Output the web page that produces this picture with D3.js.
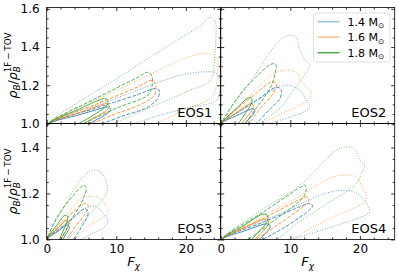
<!DOCTYPE html>
<html>
<head>
<meta charset="utf-8">
<script src="https://cdn.jsdelivr.net/npm/d3@7"></script>
<style>
  html, body { margin: 0; padding: 0; background: #fff; }
  svg { display: block; }
  text { font-family: "DejaVu Sans", sans-serif; }
</style>
</head>
<body>
<svg id="chart" width="399" height="276"></svg>
<script>
// ---------------- data ----------------
const masses = ["1.4", "1.6", "1.8"];
const massColors = ["#1f77b4", "#ff7f0e", "#2ca02c"];
const levels = ["dotted", "dashed", "solid"];
const xTicks = [0, 10, 20];
const yTicksTop = [1.0, 1.2, 1.4, 1.6];
const yTicksBottom = [1.0, 1.2, 1.4];
const eosNames = ["EOS1", "EOS2", "EOS3", "EOS4"];

// contour outlines [F_chi, rho_B / rho_B^{1F-TOV}], per mass and level
const EOS1 = [
  {m: "1.4", ls: "dotted", pts: [[0.1,0.99],[0.5,1.008],[10,1.132],[16,1.215],[19.5,1.255],[22.5,1.27],[24.3,1.265],[24.9,1.23],[24.8,1.16],[24.4,1.12],[20,1.08],[16,1.04],[12.5,1.0],[8,0.97],[1,0.975]]},
  {m: "1.4", ls: "dashed", pts: [[0.2,0.99],[0.7,1.007],[7,1.08],[13,1.15],[15.6,1.182],[16.2,1.17],[15.9,1.13],[14.5,1.085],[11,1.04],[8,1.0],[5,0.97],[1,0.975]]},
  {m: "1.4", ls: "solid",  pts: [[0.2,0.99],[0.7,1.006],[4.6,1.045],[8.1,1.082],[8.8,1.087],[9.2,1.073],[8.8,1.055],[7.7,1.03],[6.0,1.0],[4,0.975],[1,0.975]]},
  {m: "1.6", ls: "dotted", pts: [[0.1,0.99],[0.5,1.01],[10,1.173],[17,1.295],[20.5,1.35],[23.3,1.366],[24.4,1.34],[24.5,1.25],[24.2,1.17],[23.5,1.13],[20,1.075],[17.5,1.03],[15.5,1.0],[10,0.96],[1,0.975]]},
  {m: "1.6", ls: "dashed", pts: [[0.2,0.99],[0.6,1.008],[7,1.1],[13,1.19],[15.0,1.225],[15.6,1.21],[15.5,1.15],[13.5,1.1],[9.5,1.045],[6.5,1.0],[4,0.97],[1,0.975]]},
  {m: "1.6", ls: "solid",  pts: [[0.2,0.99],[0.6,1.008],[4.5,1.055],[7.9,1.098],[8.6,1.105],[9.0,1.09],[8.7,1.07],[7.3,1.04],[5.3,1.0],[3.5,0.975],[1,0.975]]},
  {m: "1.8", ls: "dotted", pts: [[0.1,0.99],[0.5,1.012],[10,1.234],[18,1.42],[22,1.51],[23.5,1.555],[24.2,1.535],[24.3,1.44],[24.1,1.33],[23.6,1.23],[20,1.165],[14,1.07],[9.5,1.0],[6,0.96],[1,0.975]]},
  {m: "1.8", ls: "dashed", pts: [[0.2,0.99],[0.6,1.01],[7,1.13],[13,1.24],[14.5,1.268],[15.1,1.25],[15.1,1.19],[14.6,1.15],[10,1.08],[5.2,1.0],[3,0.97],[1,0.975]]},
  {m: "1.8", ls: "solid",  pts: [[0.2,0.99],[0.6,1.01],[4.3,1.07],[7.5,1.122],[8.3,1.131],[8.8,1.12],[8.6,1.095],[7.2,1.055],[4.6,1.0],[3,0.975],[1,0.975]]}
];
const EOS2 = [
  {m: "1.4", ls: "dotted", pts: [[0.05,0.99],[0.3,1.007],[4,1.09],[8.3,1.19],[9.9,1.2],[11.5,1.17],[12.3,1.12],[12.8,1.095],[12.4,1.07],[10.1,1.035],[6.8,1.0],[3.5,0.97],[0.5,0.975]]},
  {m: "1.4", ls: "dashed", pts: [[0.05,0.99],[0.3,1.008],[2.5,1.06],[5.5,1.13],[8.0,1.19],[8.7,1.175],[8.5,1.13],[7.8,1.1],[6.8,1.065],[5.0,1.0],[3,0.97],[0.5,0.975]]},
  {m: "1.4", ls: "solid",  pts: [[0.05,0.99],[0.3,1.006],[2.2,1.04],[4.1,1.072],[4.6,1.078],[4.9,1.065],[4.6,1.045],[4.1,1.025],[3.5,1.0],[2.5,0.975],[0.5,0.975]]},
  {m: "1.6", ls: "dotted", pts: [[0.05,0.99],[0.3,1.01],[3.5,1.12],[7.2,1.25],[9.4,1.28],[11.0,1.262],[11.8,1.21],[13.0,1.16],[12.6,1.125],[10.5,1.08],[8.7,1.05],[5.8,1.0],[3,0.965],[0.5,0.975]]},
  {m: "1.6", ls: "dashed", pts: [[0.05,0.99],[0.3,1.01],[2.5,1.08],[5,1.155],[7.3,1.217],[8.0,1.21],[7.7,1.17],[7.0,1.13],[5.8,1.085],[4.0,1.0],[2.5,0.97],[0.5,0.975]]},
  {m: "1.6", ls: "solid",  pts: [[0.05,0.99],[0.3,1.008],[2,1.05],[3.9,1.098],[4.4,1.104],[4.7,1.09],[4.4,1.065],[3.8,1.035],[3.0,1.0],[2,0.975],[0.5,0.975]]},
  {m: "1.8", ls: "dotted", pts: [[0.05,0.99],[0.3,1.015],[4.4,1.227],[8.5,1.435],[9.9,1.462],[10.9,1.45],[11.3,1.39],[12.2,1.33],[12.8,1.31],[12.4,1.275],[11.8,1.24],[10.2,1.16],[8.7,1.087],[5.4,1.0],[3,0.96],[0.5,0.975]]},
  {m: "1.8", ls: "dashed", pts: [[0.05,0.99],[0.3,1.015],[2.5,1.139],[5,1.24],[7.2,1.31],[7.9,1.31],[7.8,1.26],[7.3,1.2],[6.3,1.14],[4.9,1.07],[3.4,1.0],[2,0.97],[0.5,0.975]]},
  {m: "1.8", ls: "solid",  pts: [[0.05,0.99],[0.3,1.01],[2,1.07],[3.8,1.13],[4.3,1.137],[4.5,1.12],[4.2,1.09],[3.5,1.05],[2.5,1.0],[1.5,0.975],[0.5,0.975]]}
];
const EOS3 = [
  {m: "1.4", ls: "dotted", pts: [[0.05,0.99],[0.2,1.006],[3,1.072],[5.8,1.14],[7.1,1.143],[8.2,1.11],[8.8,1.083],[8.3,1.055],[6.6,1.026],[4.9,1.0],[2.5,0.975],[0.4,0.975]]},
  {m: "1.4", ls: "dashed", pts: [[0.05,0.99],[0.2,1.006],[2,1.05],[4,1.1],[5.5,1.134],[5.95,1.12],[5.7,1.09],[5.1,1.06],[4.5,1.03],[3.8,1.0],[2.5,0.975],[0.4,0.975]]},
  {m: "1.4", ls: "solid",  pts: [[0.05,0.99],[0.2,1.006],[1.6,1.035],[2.9,1.062],[3.25,1.055],[3.1,1.04],[2.7,1.02],[2.3,1.0],[1.5,0.98],[0.4,0.98]]},
  {m: "1.6", ls: "dotted", pts: [[0.05,0.99],[0.2,1.01],[2.5,1.09],[4.8,1.175],[6.3,1.187],[7.5,1.183],[8.4,1.15],[8.8,1.12],[8.4,1.103],[7.2,1.08],[5.9,1.055],[3.9,1.0],[2,0.97],[0.4,0.975]]},
  {m: "1.6", ls: "dashed", pts: [[0.05,0.99],[0.2,1.008],[2,1.065],[4,1.125],[5.5,1.157],[5.95,1.148],[5.6,1.115],[5.1,1.095],[4.2,1.06],[2.8,1.0],[1.6,0.975],[0.4,0.975]]},
  {m: "1.6", ls: "solid",  pts: [[0.05,0.99],[0.2,1.008],[1.5,1.045],[2.8,1.082],[3.1,1.078],[3.1,1.06],[2.6,1.03],[2.0,1.0],[1.3,0.98],[0.4,0.98]]},
  {m: "1.8", ls: "dotted", pts: [[0.05,0.99],[0.2,1.015],[2.5,1.142],[5.0,1.265],[6.3,1.297],[7.3,1.3],[8.0,1.283],[8.6,1.245],[8.7,1.215],[8.2,1.18],[6.8,1.13],[5.4,1.082],[3.0,1.0],[1.6,0.965],[0.4,0.975]]},
  {m: "1.8", ls: "dashed", pts: [[0.05,0.99],[0.2,1.012],[1.5,1.098],[3.5,1.18],[5.3,1.235],[5.7,1.225],[5.4,1.19],[5.0,1.16],[3.5,1.084],[2.0,1.0],[1.2,0.97],[0.4,0.975]]},
  {m: "1.8", ls: "solid",  pts: [[0.05,0.99],[0.2,1.01],[1.4,1.06],[2.6,1.105],[3.0,1.1],[2.9,1.075],[2.4,1.04],[1.8,1.0],[1.2,0.98],[0.4,0.98]]}
];
const EOS4 = [
  {m: "1.4", ls: "dotted", pts: [[0.1,0.99],[0.4,1.006],[8,1.105],[15,1.2],[17.6,1.214],[19.1,1.207],[20.5,1.178],[21.0,1.155],[21.4,1.122],[20.7,1.105],[16,1.055],[9.9,1.0],[5,0.97],[0.8,0.975]]},
  {m: "1.4", ls: "dashed", pts: [[0.1,0.99],[0.4,1.006],[6,1.074],[12.3,1.153],[12.9,1.157],[13.2,1.145],[12.8,1.13],[12.0,1.11],[9,1.05],[6.0,1.0],[3.5,0.97],[0.8,0.975]]},
  {m: "1.4", ls: "solid",  pts: [[0.1,0.99],[0.4,1.005],[3.2,1.035],[6.5,1.068],[6.95,1.066],[7.1,1.053],[6.7,1.035],[6.1,1.017],[5.5,1.0],[3.6,0.975],[0.8,0.975]]},
  {m: "1.6", ls: "dotted", pts: [[0.1,0.99],[0.4,1.008],[5,1.085],[10,1.165],[16,1.27],[18.1,1.28],[19.4,1.272],[20.4,1.225],[20.9,1.193],[20.7,1.163],[17,1.11],[13,1.05],[10,1.0],[5,0.96],[0.8,0.975]]},
  {m: "1.6", ls: "dashed", pts: [[0.1,0.99],[0.4,1.008],[6,1.09],[11.8,1.18],[12.4,1.185],[12.7,1.172],[12.3,1.155],[11.5,1.135],[8.5,1.07],[5.0,1.0],[3,0.97],[0.8,0.975]]},
  {m: "1.6", ls: "solid",  pts: [[0.1,0.99],[0.4,1.007],[3,1.045],[6.2,1.088],[6.7,1.087],[6.9,1.073],[6.5,1.05],[5.7,1.025],[4.9,1.0],[3.3,0.975],[0.8,0.975]]},
  {m: "1.8", ls: "dotted", pts: [[0.1,0.99],[0.4,1.01],[6,1.13],[11.4,1.236],[16.5,1.385],[18.1,1.403],[19.1,1.395],[20.0,1.345],[20.7,1.322],[20.2,1.287],[19.5,1.243],[15,1.15],[11,1.07],[8,1.0],[4,0.96],[0.8,0.975]]},
  {m: "1.8", ls: "dashed", pts: [[0.1,0.99],[0.4,1.01],[6,1.117],[11.5,1.228],[12.1,1.237],[12.3,1.22],[12.0,1.19],[11.3,1.165],[8,1.09],[3.9,1.0],[2,0.97],[0.8,0.975]]},
  {m: "1.8", ls: "solid",  pts: [[0.1,0.99],[0.4,1.008],[3,1.055],[6.0,1.11],[6.6,1.108],[6.8,1.095],[6.4,1.065],[5.5,1.035],[4.4,1.0],[3,0.975],[0.8,0.975]]}
];

// ---------------- layout ----------------
const svg = d3.select("#chart");
const colX = [[46.7, 220.7], [220.7, 394.7]];
const rowY = [[7.5, 123.5], [123.5, 239.5]];
const yDomains = [[1.0, 1.607], [1.0, 1.504]];
const xDomain = [0, 25];
const styleDash = { solid: null, dashed: "3.7,1.6", dotted: "1,1.65" };
const styleOpacity = { solid: 0.85, dashed: 0.8, dotted: 0.65 };
const color = d3.scaleOrdinal().domain(masses).range(massColors);

const panels = [
  { name: eosNames[0], data: EOS1, col: 0, row: 0 },
  { name: eosNames[1], data: EOS2, col: 1, row: 0 },
  { name: eosNames[2], data: EOS3, col: 0, row: 1 },
  { name: eosNames[3], data: EOS4, col: 1, row: 1 }
];

function range(a, b, s) { const out = []; for (let v = a; v <= b + 1e-9; v += s) out.push(+v.toFixed(4)); return out; }

panels.forEach((p, i) => {
  const [x0, x1] = colX[p.col];
  const [y0, y1] = rowY[p.row];
  const x = d3.scaleLinear().domain(xDomain).range([x0, x1]);
  const y = d3.scaleLinear().domain(yDomains[p.row]).range([y1, y0]);
  const clipId = "clip" + i;
  svg.append("clipPath").attr("id", clipId).append("rect")
    .attr("x", x0).attr("y", y0).attr("width", x1 - x0).attr("height", y1 - y0);

  const g = svg.append("g").attr("clip-path", `url(#${clipId})`);
  const line = d3.line().x(d => x(d[0])).y(d => y(d[1])).curve(d3.curveCatmullRomClosed.alpha(0.5));
  g.selectAll("path").data(p.data).join("path")
    .attr("d", d => line(d.pts))
    .attr("fill", "none")
    .attr("stroke", d => color(d.m))
    .attr("stroke-opacity", d => styleOpacity[d.ls])
    .attr("stroke-width", 1.0)
    .attr("stroke-dasharray", d => styleDash[d.ls]);

  // axes (inward ticks on all sides)
  const yMajor = p.row === 0 ? yTicksTop : yTicksBottom;
  const yMinor = range(1.0, yDomains[p.row][1], 0.05).filter(v => !yMajor.some(m => Math.abs(m - v) < 1e-6));
  const xMinor = range(0, 24, 2).filter(v => !xTicks.includes(v));

  const showX = p.row === 1, showY = p.col === 0;
  const ax = [];
  ax.push(svg.append("g").attr("transform", `translate(0,${y1})`)
    .call(d3.axisBottom(x).tickValues(xTicks).tickSize(-3.5).tickPadding(5).tickFormat(showX ? d3.format("d") : () => "")));
  ax.push(svg.append("g").attr("transform", `translate(0,${y1})`)
    .call(d3.axisBottom(x).tickValues(xMinor).tickSize(-2).tickFormat(() => "")));
  ax.push(svg.append("g").attr("transform", `translate(0,${y0})`)
    .call(d3.axisTop(x).tickValues(xTicks).tickSize(-3.5).tickFormat(() => "")));
  ax.push(svg.append("g").attr("transform", `translate(0,${y0})`)
    .call(d3.axisTop(x).tickValues(xMinor).tickSize(-2).tickFormat(() => "")));
  ax.push(svg.append("g").attr("transform", `translate(${x0},0)`)
    .call(d3.axisLeft(y).tickValues(yMajor).tickSize(-3.5).tickPadding(7).tickFormat(showY ? d3.format(".1f") : () => "")));
  ax.push(svg.append("g").attr("transform", `translate(${x0},0)`)
    .call(d3.axisLeft(y).tickValues(yMinor).tickSize(-2).tickFormat(() => "")));
  ax.push(svg.append("g").attr("transform", `translate(${x1},0)`)
    .call(d3.axisRight(y).tickValues(yMajor).tickSize(-3.5).tickFormat(() => "")));
  ax.push(svg.append("g").attr("transform", `translate(${x1},0)`)
    .call(d3.axisRight(y).tickValues(yMinor).tickSize(-2).tickFormat(() => "")));
  ax.forEach(a => {
    a.select(".domain").remove();
    a.selectAll("line").attr("stroke", "#000").attr("stroke-width", 0.8);
    a.selectAll("text").attr("fill", "#000").style("font-size", "12px").style("font-family", "DejaVu Sans");
  });

  svg.append("rect").attr("x", x0).attr("y", y0).attr("width", x1 - x0).attr("height", y1 - y0)
    .attr("fill", "none").attr("stroke", "#000").attr("stroke-width", 0.8);

  svg.append("text").attr("x", x1 - 8.5).attr("y", y1 - 7)
    .attr("text-anchor", "end").style("font-size", "13px").attr("fill", "#000").text(p.name);

  // axis labels
  if (showY) {
    const cy = (y0 + y1) / 2;
    const t = svg.append("text").attr("transform", `translate(16.5,${cy}) rotate(-90)`)
      .attr("text-anchor", "middle").style("font-size", "12.5px").attr("fill", "#000");
    t.append("tspan").style("font-style", "italic").text("ρ");
    t.append("tspan").style("font-style", "italic").style("font-size", "8.8px").attr("dy", 3).text("B");
    t.append("tspan").attr("dy", -3).text("/");
    t.append("tspan").style("font-style", "italic").text("ρ");
    t.append("tspan").style("font-style", "italic").style("font-size", "8.8px").attr("dy", 3).text("B");
    t.append("tspan").style("font-size", "8.8px").attr("dx", -6).attr("dy", -8.5).text("1F\u2009−\u2009TOV");
  }
  if (showX) {
    const t = svg.append("text").attr("x", (x0 + x1) / 2).attr("y", 266)
      .attr("text-anchor", "middle").style("font-size", "13px").attr("fill", "#000");
    t.append("tspan").style("font-style", "italic").text("F");
    t.append("tspan").style("font-style", "italic").style("font-size", "9px").attr("dy", 3).text("χ");
  }
});

// ---------------- legend ----------------
const lg = svg.append("g");
lg.append("rect").attr("x", 313.5).attr("y", 13).attr("width", 76.5).attr("height", 49)
  .attr("rx", 2.5).attr("fill", "#fff").attr("fill-opacity", 0.8)
  .attr("stroke", "#d5d5d5").attr("stroke-width", 0.8);
const legendOpacity = [0.45, 0.5, 0.85];
masses.forEach((m, i) => {
  const yy = 21.7 + i * 15.5;
  lg.append("line").attr("x1", 317.5).attr("x2", 339.5).attr("y1", yy).attr("y2", yy)
    .attr("stroke", color(m)).attr("stroke-opacity", legendOpacity[i]).attr("stroke-width", 1.5);
  const t = lg.append("text").attr("x", 347.5).attr("y", yy + 4).style("font-size", "11px").attr("fill", "#000");
  t.append("tspan").text(m + " M");
  t.append("tspan").style("font-size", "7.5px").attr("dy", 2.5).text("⊙");
});
</script>
</body>
</html>
